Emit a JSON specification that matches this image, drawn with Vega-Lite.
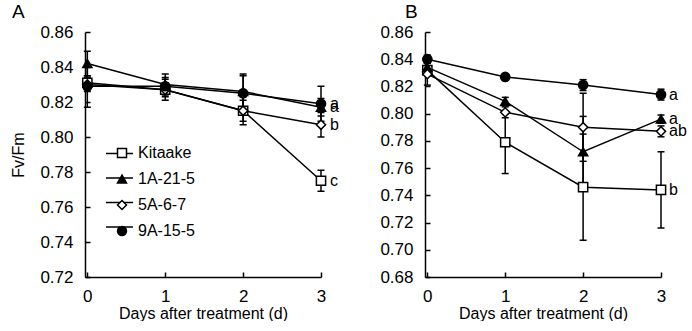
{
  "$schema": "https://vega.github.io/schema/vega-lite/v6.json",
  "padding": {"left": 10, "top": 3, "right": 0, "bottom": 0},
  "background": "white",
  "data": {"values": [
    {"panel": "A", "series": "Kitaake", "day": 0, "mean": 0.831, "lo": 0.827, "hi": 0.835, "letter": ""},
    {"panel": "A", "series": "Kitaake", "day": 1, "mean": 0.827, "lo": 0.821, "hi": 0.833, "letter": ""},
    {"panel": "A", "series": "Kitaake", "day": 2, "mean": 0.815, "lo": 0.807, "hi": 0.823, "letter": ""},
    {"panel": "A", "series": "Kitaake", "day": 3, "mean": 0.775, "lo": 0.769, "hi": 0.781, "letter": "c"},
    {"panel": "A", "series": "1A-21-5", "day": 0, "mean": 0.842, "lo": 0.835, "hi": 0.849, "letter": ""},
    {"panel": "A", "series": "1A-21-5", "day": 1, "mean": 0.830, "lo": 0.825, "hi": 0.836, "letter": ""},
    {"panel": "A", "series": "1A-21-5", "day": 2, "mean": 0.826, "lo": 0.817, "hi": 0.835, "letter": ""},
    {"panel": "A", "series": "1A-21-5", "day": 3, "mean": 0.817, "lo": 0.812, "hi": 0.822, "letter": "a"},
    {"panel": "A", "series": "5A-6-7", "day": 0, "mean": 0.830, "lo": 0.826, "hi": 0.834, "letter": ""},
    {"panel": "A", "series": "5A-6-7", "day": 1, "mean": 0.827, "lo": 0.823, "hi": 0.831, "letter": ""},
    {"panel": "A", "series": "5A-6-7", "day": 2, "mean": 0.815, "lo": 0.809, "hi": 0.821, "letter": ""},
    {"panel": "A", "series": "5A-6-7", "day": 3, "mean": 0.807, "lo": 0.800, "hi": 0.814, "letter": "b"},
    {"panel": "A", "series": "9A-15-5", "day": 0, "mean": 0.829, "lo": 0.817, "hi": 0.841, "letter": ""},
    {"panel": "A", "series": "9A-15-5", "day": 1, "mean": 0.829, "lo": 0.824, "hi": 0.834, "letter": ""},
    {"panel": "A", "series": "9A-15-5", "day": 2, "mean": 0.825, "lo": 0.814, "hi": 0.836, "letter": ""},
    {"panel": "A", "series": "9A-15-5", "day": 3, "mean": 0.819, "lo": 0.809, "hi": 0.829, "letter": "a"},
    {"panel": "B", "series": "Kitaake", "day": 0, "mean": 0.832, "lo": 0.829, "hi": 0.835, "letter": ""},
    {"panel": "B", "series": "Kitaake", "day": 1, "mean": 0.779, "lo": 0.756, "hi": 0.802, "letter": ""},
    {"panel": "B", "series": "Kitaake", "day": 2, "mean": 0.746, "lo": 0.707, "hi": 0.785, "letter": ""},
    {"panel": "B", "series": "Kitaake", "day": 3, "mean": 0.744, "lo": 0.716, "hi": 0.772, "letter": "b"},
    {"panel": "B", "series": "1A-21-5", "day": 0, "mean": 0.834, "lo": 0.831, "hi": 0.837, "letter": ""},
    {"panel": "B", "series": "1A-21-5", "day": 1, "mean": 0.809, "lo": 0.806, "hi": 0.812, "letter": ""},
    {"panel": "B", "series": "1A-21-5", "day": 2, "mean": 0.772, "lo": 0.746, "hi": 0.798, "letter": ""},
    {"panel": "B", "series": "1A-21-5", "day": 3, "mean": 0.796, "lo": 0.793, "hi": 0.799, "letter": "a"},
    {"panel": "B", "series": "5A-6-7", "day": 0, "mean": 0.829, "lo": 0.821, "hi": 0.837, "letter": ""},
    {"panel": "B", "series": "5A-6-7", "day": 1, "mean": 0.801, "lo": 0.797, "hi": 0.805, "letter": ""},
    {"panel": "B", "series": "5A-6-7", "day": 2, "mean": 0.790, "lo": 0.765, "hi": 0.815, "letter": ""},
    {"panel": "B", "series": "5A-6-7", "day": 3, "mean": 0.787, "lo": 0.783, "hi": 0.791, "letter": "ab"},
    {"panel": "B", "series": "9A-15-5", "day": 0, "mean": 0.840, "lo": 0.837, "hi": 0.843, "letter": ""},
    {"panel": "B", "series": "9A-15-5", "day": 1, "mean": 0.827, "lo": 0.825, "hi": 0.829, "letter": ""},
    {"panel": "B", "series": "9A-15-5", "day": 2, "mean": 0.821, "lo": 0.817, "hi": 0.825, "letter": ""},
    {"panel": "B", "series": "9A-15-5", "day": 3, "mean": 0.814, "lo": 0.810, "hi": 0.818, "letter": "a"}
  ]},
  "spacing": 40,
  "resolve": {
    "scale": {"x": "independent", "y": "independent", "shape": "independent", "fill": "independent", "stroke": "independent"},
    "legend": {"shape": "independent", "fill": "independent", "stroke": "independent"}
  },
  "hconcat": [
    {
      "width": 236,
      "height": 245,
      "title": {"text": "A", "anchor": "start", "frame": "bounds", "dx": 1, "fontSize": 19, "fontWeight": "normal", "font": "Liberation Sans", "color": "black", "offset": 1},
      "transform": [{"filter": "datum.panel === 'A'"}],
      "encoding": {
        "x": {"field": "day", "type": "quantitative", "scale": {"domain": [-0.03, 3], "nice": false, "zero": false},
              "axis": {"values": [0, 1, 2, 3], "title": "Days after treatment (d)", "format": "d"}}
      },
      "layer": [
        {
          "mark": {"type": "rule", "color": "black", "strokeWidth": 1.5},
          "encoding": {
            "y": {"field": "lo", "type": "quantitative", "scale": {"domain": [0.72, 0.86], "nice": false, "zero": false},
                  "axis": {"values": [0.72, 0.74, 0.76, 0.78, 0.80, 0.82, 0.84, 0.86], "format": ".2f", "title": "Fv/Fm", "tickCount": 8}},
            "y2": {"field": "hi"}
          }
        },
        {
          "mark": {"type": "tick", "orient": "horizontal", "size": 7, "thickness": 1.5, "color": "black", "opacity": 1},
          "encoding": {"y": {"field": "lo", "type": "quantitative",
                  "axis": {"values": [0.72, 0.74, 0.76, 0.78, 0.80, 0.82, 0.84, 0.86], "format": ".2f", "title": "Fv/Fm", "tickCount": 8}}}
        },
        {
          "mark": {"type": "tick", "orient": "horizontal", "size": 7, "thickness": 1.5, "color": "black", "opacity": 1},
          "encoding": {"y": {"field": "hi", "type": "quantitative",
                  "axis": {"values": [0.72, 0.74, 0.76, 0.78, 0.80, 0.82, 0.84, 0.86], "format": ".2f", "title": "Fv/Fm", "tickCount": 8}}}
        },
        {
          "mark": {"type": "line", "strokeWidth": 1.5},
          "encoding": {"y": {"field": "mean", "type": "quantitative",
                  "axis": {"values": [0.72, 0.74, 0.76, 0.78, 0.80, 0.82, 0.84, 0.86], "format": ".2f", "title": "Fv/Fm", "tickCount": 8}},
                  "stroke": {"field": "series", "type": "nominal",
                    "scale": {"domain": ["9A-15-5", "5A-6-7", "1A-21-5", "Kitaake"], "range": ["black", "black", "black", "black"]},
                    "legend": {
                      "orient": "none", "legendX": 20, "legendY": 107, "title": null,
                      "symbolType": "stroke", "symbolSize": 729, "symbolStrokeWidth": 1.5, "symbolStrokeColor": "black",
                      "labelFontSize": 16, "labelExpr": "''", "labelOffset": 2, "rowPadding": 1.5, "padding": 0
                    }}}
        },
        {
          "mark": {"type": "point", "stroke": "black", "strokeWidth": 1.5, "opacity": 1, "size": 85},
          "encoding": {
            "y": {"field": "mean", "type": "quantitative",
                  "axis": {"values": [0.72, 0.74, 0.76, 0.78, 0.80, 0.82, 0.84, 0.86], "format": ".2f", "title": "Fv/Fm", "tickCount": 8}},
            "shape": {"field": "series", "type": "nominal",
              "scale": {"domain": ["Kitaake", "1A-21-5", "5A-6-7", "9A-15-5"], "range": ["square", "triangle-up", "diamond", "circle"]},
              "legend": {
                "orient": "none", "legendX": 29, "legendY": 113, "title": null,
                "labelFont": "Liberation Sans", "labelFontSize": 16, "labelColor": "black",
                "labelOffset": 8, "rowPadding": 10, "symbolSize": 81, "padding": 0,
                "encode": {"symbols": {
                  "stroke": {"value": "black"},
                  "strokeWidth": {"value": 1.5},
                  "opacity": {"value": 1}
                }}
              }},
            "fill": {"field": "series", "type": "nominal",
              "scale": {"domain": ["Kitaake", "1A-21-5", "5A-6-7", "9A-15-5"], "range": ["white", "black", "white", "black"]},
              "legend": null}
          }
        },
        {
          "transform": [{"filter": "datum.letter !== ''"}],
          "mark": {"type": "text", "align": "left", "baseline": "middle", "dx": 9, "fontSize": 16, "font": "Liberation Sans", "color": "black"},
          "encoding": {"y": {"field": "mean", "type": "quantitative",
                  "axis": {"values": [0.72, 0.74, 0.76, 0.78, 0.80, 0.82, 0.84, 0.86], "format": ".2f", "title": "Fv/Fm", "tickCount": 8}},
                  "text": {"field": "letter"}}
        }
      ]
    },
    {
      "width": 236,
      "height": 245,
      "title": {"text": "B", "anchor": "start", "frame": "bounds", "dx": 25, "fontSize": 19, "fontWeight": "normal", "font": "Liberation Sans", "color": "black", "offset": 1},
      "transform": [{"filter": "datum.panel === 'B'"}],
      "encoding": {
        "x": {"field": "day", "type": "quantitative", "scale": {"domain": [-0.03, 3], "nice": false, "zero": false},
              "axis": {"values": [0, 1, 2, 3], "title": "Days after treatment (d)", "format": "d"}}
      },
      "layer": [
        {
          "mark": {"type": "rule", "color": "black", "strokeWidth": 1.5},
          "encoding": {
            "y": {"field": "lo", "type": "quantitative", "scale": {"domain": [0.68, 0.86], "nice": false, "zero": false},
                  "axis": {"values": [0.68, 0.70, 0.72, 0.74, 0.76, 0.78, 0.80, 0.82, 0.84, 0.86], "format": ".2f", "title": null, "tickCount": 10}},
            "y2": {"field": "hi"}
          }
        },
        {
          "mark": {"type": "tick", "orient": "horizontal", "size": 7, "thickness": 1.5, "color": "black", "opacity": 1},
          "encoding": {"y": {"field": "lo", "type": "quantitative",
                  "axis": {"values": [0.68, 0.70, 0.72, 0.74, 0.76, 0.78, 0.80, 0.82, 0.84, 0.86], "format": ".2f", "title": null, "tickCount": 10}}}
        },
        {
          "mark": {"type": "tick", "orient": "horizontal", "size": 7, "thickness": 1.5, "color": "black", "opacity": 1},
          "encoding": {"y": {"field": "hi", "type": "quantitative",
                  "axis": {"values": [0.68, 0.70, 0.72, 0.74, 0.76, 0.78, 0.80, 0.82, 0.84, 0.86], "format": ".2f", "title": null, "tickCount": 10}}}
        },
        {
          "mark": {"type": "line", "color": "black", "strokeWidth": 1.5},
          "encoding": {"y": {"field": "mean", "type": "quantitative",
                  "axis": {"values": [0.68, 0.70, 0.72, 0.74, 0.76, 0.78, 0.80, 0.82, 0.84, 0.86], "format": ".2f", "title": null, "tickCount": 10}},
                  "detail": {"field": "series"}}
        },
        {
          "mark": {"type": "point", "stroke": "black", "strokeWidth": 1.5, "opacity": 1, "size": 85},
          "encoding": {
            "y": {"field": "mean", "type": "quantitative",
                  "axis": {"values": [0.68, 0.70, 0.72, 0.74, 0.76, 0.78, 0.80, 0.82, 0.84, 0.86], "format": ".2f", "title": null, "tickCount": 10}},
            "shape": {"field": "series", "type": "nominal",
              "scale": {"domain": ["Kitaake", "1A-21-5", "5A-6-7", "9A-15-5"], "range": ["square", "triangle-up", "diamond", "circle"]},
              "legend": null},
            "fill": {"field": "series", "type": "nominal",
              "scale": {"domain": ["Kitaake", "1A-21-5", "5A-6-7", "9A-15-5"], "range": ["white", "black", "white", "black"]},
              "legend": null}
          }
        },
        {
          "transform": [{"filter": "datum.letter !== ''"}],
          "mark": {"type": "text", "align": "left", "baseline": "middle", "dx": 8, "fontSize": 16, "font": "Liberation Sans", "color": "black"},
          "encoding": {"y": {"field": "mean", "type": "quantitative",
                  "axis": {"values": [0.68, 0.70, 0.72, 0.74, 0.76, 0.78, 0.80, 0.82, 0.84, 0.86], "format": ".2f", "title": null, "tickCount": 10}},
                  "text": {"field": "letter"}}
        }
      ]
    }
  ],
  "config": {
    "view": {"stroke": null},
    "axis": {
      "grid": false,
      "domainColor": "black", "domainWidth": 1.5,
      "tickColor": "black", "tickWidth": 1.5, "tickSize": -5,
      "labelFont": "Liberation Sans", "labelFontSize": 17, "labelColor": "black",
      "labelOverlap": false,
      "titleFont": "Liberation Sans", "titleFontSize": 16, "titleFontWeight": "normal", "titleColor": "black",
      "labelFlush": false
    },
    "axisY": {"titlePadding": 13, "labelPadding": 17},
    "axisX": {"titlePadding": 1, "labelPadding": 16}
  }
}
